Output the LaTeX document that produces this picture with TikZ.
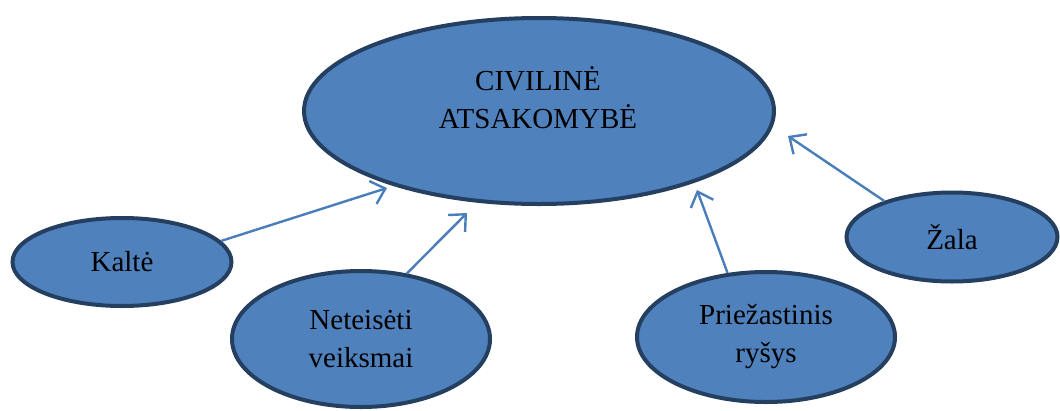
\documentclass[tikz,border=0pt]{standalone}
\usepackage{fontspec}
\setmainfont{Liberation Serif}
\usetikzlibrary{shapes.geometric,arrows.meta}
\definecolor{fillblue}{HTML}{4F81BD}
\definecolor{edgeblue}{HTML}{243F60}
\definecolor{arrowblue}{HTML}{4A7EBB}
\begin{document}
\begin{tikzpicture}[x=1pt,y=-1pt,
  bubble/.style={ellipse,draw=edgeblue,fill=fillblue,line width=4pt,inner sep=0pt,
    align=center,font=\fontsize{29}{38}\selectfont},
  link/.style={draw=arrowblue,line width=2.4pt,-{Straight Barb[length=13pt,width=24pt,line width=2.4pt]}},
  lbl/.style={align=center,font=\fontsize{29}{38}\selectfont}]
\useasboundingbox (0,0) rectangle (1060,410);
\node[bubble,minimum width=470pt,minimum height=186pt] (civ) at (539,111) {};
\node[lbl] (civt) at (538,98) {CIVILINĖ\\ATSAKOMYBĖ};
\node[bubble,minimum width=219pt,minimum height=88pt] (kal) at (122,262) {Kaltė};
\node[bubble,minimum width=258pt,minimum height=136pt] (net) at (361,339) {Neteisėti\\veiksmai};
\node[bubble,minimum width=258pt,minimum height=130pt] (pri) at (766,337) {Priežastinis\\ryšys};
\node[bubble,minimum width=211pt,minimum height=89pt] (zal) at (952,237) {Žala};
\coordinate (t1) at (387,188);
\coordinate (t2) at (467,213);
\coordinate (t3) at (697,190);
\coordinate (t4) at (788,136);
\draw[link] (kal.12) -- (t1);
\draw[link] (net.55) -- (t2);
\draw[link] (pri.121) -- (t3);
\draw[link] (zal.152) -- (t4);
\end{tikzpicture}
\end{document}
